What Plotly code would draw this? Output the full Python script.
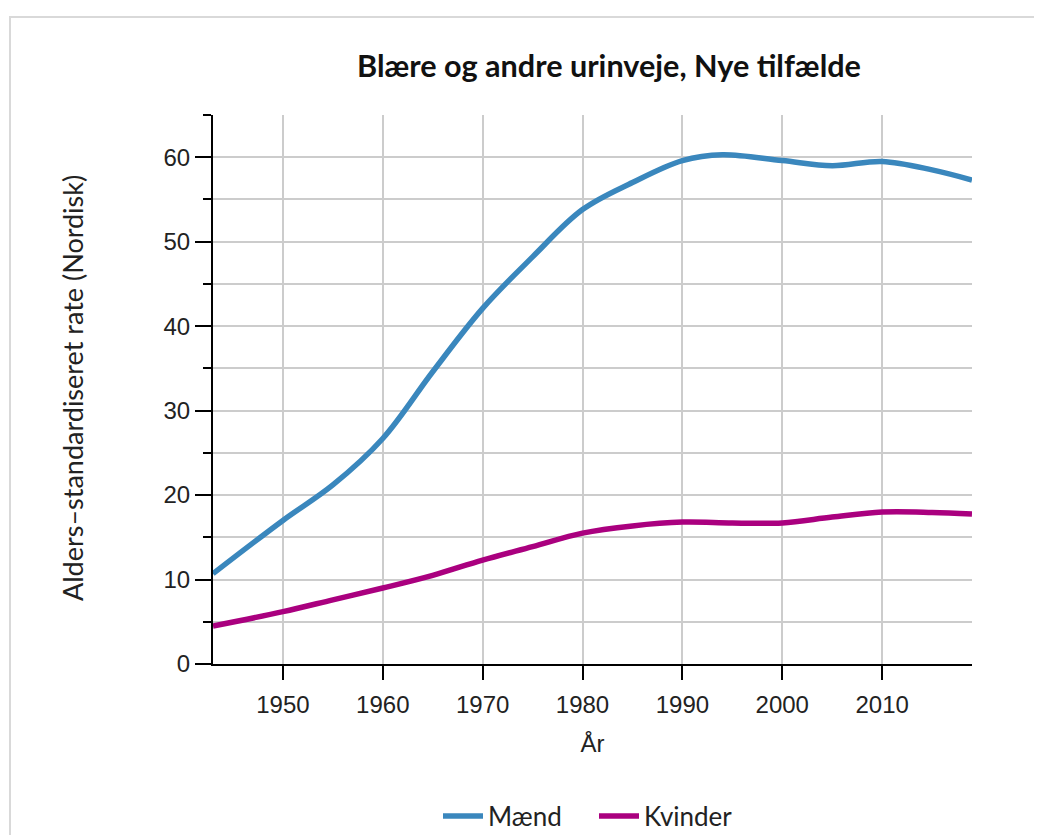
import plotly.graph_objects as go

years_m = [1943, 1950, 1955, 1960, 1965, 1970, 1975, 1980, 1985, 1990, 1994, 2000, 2005, 2010, 2015, 2019]
maend = [10.7, 17.0, 21.2, 26.7, 34.6, 42.1, 48.2, 53.8, 57.0, 59.6, 60.3, 59.6, 59.0, 59.5, 58.5, 57.3]

years_k = [1943, 1950, 1955, 1960, 1965, 1970, 1975, 1980, 1985, 1990, 1995, 2000, 2005, 2010, 2015, 2019]
kvinder = [4.5, 6.2, 7.6, 9.0, 10.5, 12.3, 13.9, 15.5, 16.35, 16.8, 16.7, 16.7, 17.4, 18.0, 17.95, 17.75]

title_text = "Blære og andre urinveje, Nye tilfælde"
x_title = "År"
y_title = "Alders\u2013standardiseret rate (Nordisk)"

BLUE = "#3a87bd"
MAGENTA = "#aa007f"
GRID = "#cccccc"

OFF = 8  # page body margin
W, H = 1034, 827
L, T = 213 - OFF, 115 - OFF
R = W - (972 - OFF)
B = H - (664 - OFF)
pw = W - L - R
ph = H - T - B

fig = go.Figure()
fig.add_trace(go.Scatter(x=years_m, y=maend, name="Mænd", mode="lines",
                         line=dict(color=BLUE, width=5.5, shape="spline", smoothing=1.0)))
fig.add_trace(go.Scatter(x=years_k, y=kvinder, name="Kvinder", mode="lines",
                         line=dict(color=MAGENTA, width=5.5, shape="spline", smoothing=1.0)))

# outer frame
fig.add_shape(type="rect", xref="paper", yref="paper", layer="below",
              x0=(10 - OFF - L) / pw, x1=(W + 10 - L) / pw,
              y0=(T + ph - (H + 10)) / ph, y1=(T + ph - (17 - OFF)) / ph,
              line=dict(color="#d9d9d9", width=2), fillcolor="rgba(0,0,0,0)")

# y axis title
fig.add_annotation(text=y_title, xref="paper", yref="paper",
                   x=(72 - OFF - L) / pw, y=(T + ph - (388 - OFF)) / ph,
                   xanchor="center", yanchor="middle", textangle=-90, showarrow=False,
                   font=dict(family="Lato", size=27, color="#222222"))

fig.update_layout(
    width=W, height=H,
    margin=dict(l=L, r=R, t=T, b=B, autoexpand=False),
    paper_bgcolor="white", plot_bgcolor="white",
    title=dict(text=title_text, xref="container", yref="container",
               x=(609 - OFF) / W, y=1 - (66 - OFF) / H, xanchor="center", yanchor="middle",
               font=dict(family="Lato", size=30.6, color="#111111", weight="bold")),
    showlegend=True,
    legend=dict(orientation="h", x=(446 - OFF - 8 - L) / pw, xanchor="left",
                y=(T + ph - (816 - OFF)) / ph, yanchor="middle",
                font=dict(family="Lato", size=26, color="#222222"),
                itemwidth=40, entrywidth=101, entrywidthmode="pixels", tracegroupgap=0),
    xaxis=dict(range=[1943, 2019], tick0=1950, dtick=10,
               showgrid=True, gridcolor=GRID, gridwidth=2,
               showline=True, linecolor="black", linewidth=2,
               ticks="outside", ticklen=14, tickwidth=2, tickcolor="black",
               ticklabelstandoff=4,
               tickfont=dict(family="Liberation Sans", size=24, color="#222222"),
               title=dict(text=x_title, standoff=18,
                          font=dict(family="Liberation Sans", size=24, color="#222222")),
               zeroline=False),
    yaxis=dict(range=[0, 65], tick0=0, dtick=10,
               showgrid=True, gridcolor=GRID, gridwidth=2,
               showline=True, linecolor="black", linewidth=2,
               ticks="outside", ticklen=16, tickwidth=2, tickcolor="black",
               tickfont=dict(family="Liberation Sans", size=24, color="#222222"),
               minor=dict(dtick=5, ticks="outside", ticklen=8, tickwidth=2, tickcolor="black",
                          showgrid=True, gridcolor=GRID, gridwidth=2),
               zeroline=False),
)

fig.write_html("out.html")
